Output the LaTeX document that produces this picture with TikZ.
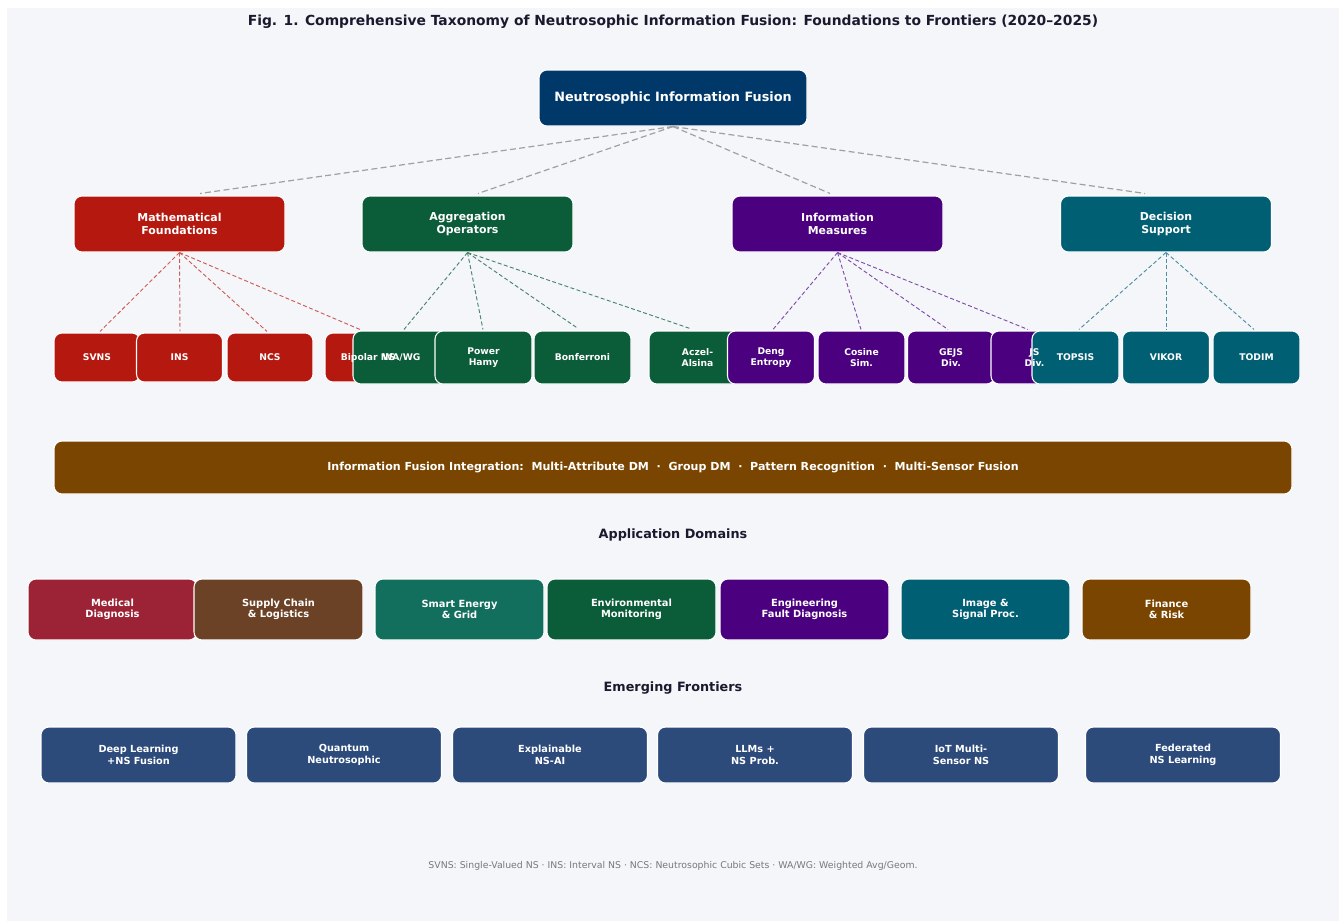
\documentclass[tikz,border=0pt]{standalone}
\usepackage{fontspec}
\setmainfont{DejaVu Sans}
\usetikzlibrary{calc}
\definecolor{panel}{RGB}{245,246,250}
\definecolor{titlec}{RGB}{26,26,46}
\definecolor{rootc}{RGB}{0,56,106}
\definecolor{redc}{RGB}{180,24,14}
\definecolor{greenc}{RGB}{11,92,56}
\definecolor{purplec}{RGB}{75,0,128}
\definecolor{tealc}{RGB}{0,95,115}
\definecolor{bannerc}{RGB}{122,69,0}
\definecolor{medc}{RGB}{155,35,53}
\definecolor{supc}{RGB}{107,66,38}
\definecolor{smec}{RGB}{19,111,93}
\definecolor{fronc}{RGB}{44,74,122}
\definecolor{notec}{RGB}{120,120,120}
\definecolor{rline}{RGB}{160,160,160}
\tikzset{
  box/.style={rectangle, rounded corners=6pt, draw=white, line width=0.8pt, text=white, align=center, inner sep=0pt},
  rootbox/.style={box, fill=rootc, minimum width=201pt, minimum height=42pt, font=\fontsize{9.6}{11.5}\selectfont\bfseries},
  lone/.style={box, minimum width=158.25pt, minimum height=42pt, font=\fontsize{8.2}{9.8}\selectfont\bfseries},
  ltwored/.style={box, fill=redc, minimum width=64.5pt, minimum height=36.75pt, font=\fontsize{6.9}{7.9}\selectfont\bfseries},
  ltwo/.style={box, minimum width=72.75pt, minimum height=39.75pt, font=\fontsize{6.9}{7.9}\selectfont\bfseries},
  ltwob/.style={box, minimum width=65.25pt, minimum height=39.75pt, font=\fontsize{6.9}{7.9}\selectfont\bfseries},
  ltxt/.style={text=white, align=center, inner sep=0pt, font=\fontsize{6.9}{7.9}\selectfont\bfseries},
  appbox/.style={box, minimum width=126.75pt, minimum height=45.75pt, font=\fontsize{7.4}{8.4}\selectfont\bfseries},
  fbox/.style={box, fill=fronc, minimum width=146.25pt, minimum height=42pt, font=\fontsize{7.3}{8.5}\selectfont\bfseries},
  heading/.style={text=titlec, font=\fontsize{9.6}{11.5}\selectfont\bfseries, inner sep=0pt},
  rootline/.style={draw=rline, line width=0.9pt, dash pattern=on 4.5pt off 2.5pt},
  subline/.style={line width=0.7pt, dash pattern=on 3pt off 1.8pt}
}
\begin{document}
\begin{tikzpicture}[x=0.75pt,y=-0.75pt]
\useasboundingbox (0,0) rectangle (1340,921);
\fill[white] (0,0) rectangle (1340,921);
\fill[panel] (7,8) rectangle (1339,921);

% title
\node[text=titlec, font=\fontsize{10.4}{12.5}\selectfont\bfseries, inner sep=0pt] (title) at (673,22)
  {Fig. 1. Comprehensive Taxonomy of Neutrosophic Information Fusion: Foundations to Frontiers (2020–2025)};

% root
\node[rootbox] (root) at (673,98) {Neutrosophic Information Fusion};

% level 1
\node[lone, fill=redc]    (mf) at (179.5,224) {Mathematical\\Foundations};
\node[lone, fill=greenc]  (ao) at (467.5,224) {Aggregation\\Operators};
\node[lone, fill=purplec] (im) at (837.5,224) {Information\\Measures};
\node[lone, fill=tealc]   (ds) at (1166,224)  {Decision\\Support};

\draw[rootline] (root.south) -- ($(mf.north)+(20.5,-2)$);
\draw[rootline] (root.south) -- ($(ao.north)+(10.5,-2)$);
\draw[rootline] (root.south) -- ($(im.north)+(-7.5,-2)$);
\draw[rootline] (root.south) -- ($(ds.north)+(-21,-2)$);

% level 2 : red
\node[ltwored] (svns) at (97,357.5)  {SVNS};
\node[ltwored] (ins)  at (179.5,357.5) {INS};
\node[ltwored] (ncs)  at (270,357.5) {NCS};
\node[ltwored] (bip)  at (368,357.5) {};
% green
\node[ltwo, fill=greenc] (wawg) at (401.5,357.5) {WA/WG};
\node[ltwo, fill=greenc] (ph)   at (483.5,357.5) {Power\\Hamy};
\node[ltwo, fill=greenc] (bon)  at (582.5,357.5) {Bonferroni};
\node[ltwo, fill=greenc] (aa)   at (697.5,357.5) {Aczel-\\Alsina};
% purple
\node[ltwob, fill=purplec] (deng) at (771,357.5)   {Deng\\Entropy};
\node[ltwob, fill=purplec] (cos)  at (861.5,357.5) {Cosine\\Sim.};
\node[ltwob, fill=purplec] (gejs) at (951,357.5)   {GEJS\\Div.};
\node[ltwob, fill=purplec] (js)   at (1034.5,357.5) {};
% teal
\node[ltwob, fill=tealc] (topsis) at (1075.5,357.5) {TOPSIS};
\node[ltwob, fill=tealc] (vikor)  at (1166,357.5)   {VIKOR};
\node[ltwob, fill=tealc] (todim)  at (1256.5,357.5) {TODIM};
% labels drawn above all boxes
\node[ltxt] (biptxt) at (bip.center) {Bipolar NS};
\node[ltxt] (jstxt)  at (js.center)  {JS\\Div.};

% level-2 connectors
\draw[subline, draw=redc!70] (mf.south) -- ($(svns.north)+(3,-1)$);
\draw[subline, draw=redc!70] (mf.south) -- ($(ins.north)+(0.5,-1)$);
\draw[subline, draw=redc!70] (mf.south) -- ($(ncs.north)+(-3,-1)$);
\draw[subline, draw=redc!70] (mf.south) -- ($(bip.north)+(-8,-3)$);
\draw[subline, draw=greenc!75] (ao.south) -- ($(wawg.north)+(2.5,-1)$);
\draw[subline, draw=greenc!75] (ao.south) -- ($(ph.north)+(-0.5,-1)$);
\draw[subline, draw=greenc!75] (ao.south) -- ($(bon.north)+(-4.5,-2)$);
\draw[subline, draw=greenc!75] (ao.south) -- ($(aa.north)+(-7.5,-2)$);
\draw[subline, draw=purplec!70] (im.south) -- ($(deng.north)+(2,-1)$);
\draw[subline, draw=purplec!70] (im.south) -- ($(cos.north)+(-0.5,-1)$);
\draw[subline, draw=purplec!70] (im.south) -- ($(gejs.north)+(-3,-1)$);
\draw[subline, draw=purplec!70] (im.south) -- ($(js.north)+(-6.5,-1)$);
\draw[subline, draw=tealc!70] (ds.south) -- ($(topsis.north)+(3.5,-1)$);
\draw[subline, draw=tealc!70] (ds.south) -- ($(vikor.north)+(0,-1)$);
\draw[subline, draw=tealc!70] (ds.south) -- ($(todim.north)+(-2.5,-1)$);

% banner
\node[box, fill=bannerc, minimum width=928.5pt, minimum height=39.75pt, font=\fontsize{8.3}{10}\selectfont\bfseries] (banner) at (673,467.5)
  {Information Fusion Integration:\ \ Multi-Attribute DM\ \ ·\ \ Group DM\ \ ·\ \ Pattern Recognition\ \ ·\ \ Multi-Sensor Fusion};

% application domains
\node[heading] (apph) at (673,534.5) {Application Domains};
\node[appbox, fill=medc]    (med) at (112.5,609.5) {Medical\\Diagnosis};
\node[appbox, fill=supc]    (sup) at (278.5,609.5) {Supply Chain\\\& Logistics};
\node[appbox, fill=smec]    (sme) at (459.5,609.5) {Smart Energy\\\& Grid};
\node[appbox, fill=greenc]  (env) at (631.5,609.5) {Environmental\\Monitoring};
\node[appbox, fill=purplec] (eng) at (804.5,609.5) {Engineering\\Fault Diagnosis};
\node[appbox, fill=tealc]   (img) at (985.5,609.5) {Image \&\\Signal Proc.};
\node[appbox, fill=bannerc] (fin) at (1166.5,609.5) {Finance\\\& Risk};

% emerging frontiers
\node[heading] (froh) at (673,688) {Emerging Frontiers};
\node[fbox] (dl)  at (138.5,755) {Deep Learning\\+NS Fusion};
\node[fbox] (qn)  at (344,755)   {Quantum\\Neutrosophic};
\node[fbox] (xai) at (550,755)   {Explainable\\NS-AI};
\node[fbox] (llm) at (755,755)   {LLMs +\\NS Prob.};
\node[fbox] (iot) at (961,755)   {IoT Multi-\\Sensor NS};
\node[fbox] (fed) at (1183,755)  {Federated\\NS Learning};

% note
\node[text=notec, font=\fontsize{7}{8.4}\selectfont, inner sep=0pt] (note) at (673,866)
  {SVNS: Single-Valued NS · INS: Interval NS · NCS: Neutrosophic Cubic Sets · WA/WG: Weighted Avg/Geom.};
\end{tikzpicture}
\end{document}
